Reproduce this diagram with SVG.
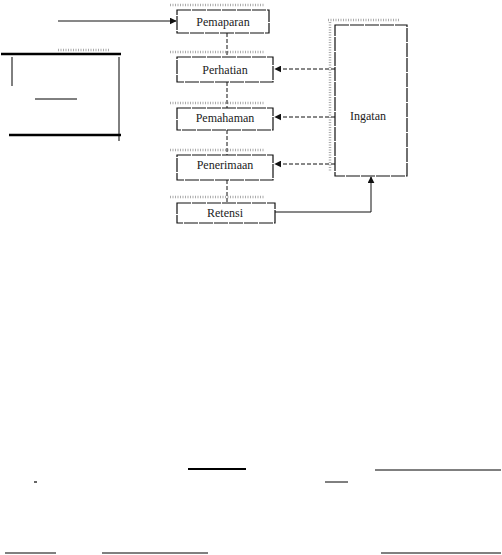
<svg xmlns="http://www.w3.org/2000/svg" width="502" height="555" viewBox="0 0 502 555">
<style>
.box{fill:#fff;stroke:#111;stroke-width:1.2;stroke-dasharray:14 1}
.lbl{font-family:"Liberation Serif",serif;font-size:12px;fill:#222;text-anchor:middle;dominant-baseline:central}
.sh{stroke:#aaa;stroke-width:2.5;stroke-dasharray:1 1.5;fill:none}
.dash{stroke:#111;stroke-width:1;stroke-dasharray:4 2;fill:none}
.solid{stroke:#111;stroke-width:1;fill:none}
.rule{stroke:#000;fill:none}
</style>
<defs>
<marker id="ah" viewBox="0 0 10 10" refX="9" refY="5" markerWidth="7" markerHeight="7" orient="auto-start-reverse">
<path d="M0,0 L10,5 L0,10 z" fill="#111"/>
</marker>
</defs>
<rect width="502" height="555" fill="#fff"/>
<g id="fragments">
<line class="rule" x1="1" y1="54" x2="121" y2="54" stroke-width="2.5"/>
<line class="rule" x1="12" y1="57" x2="12" y2="86" stroke-width="1"/>
<line class="rule" x1="119" y1="57" x2="119" y2="141" stroke-width="1"/>
<line class="rule" x1="35" y1="99" x2="77" y2="99" stroke-width="1"/>
<line class="rule" x1="9" y1="135" x2="121" y2="135" stroke-width="2.5"/>
<line class="sh" x1="58" y1="50" x2="110" y2="50" stroke-width="2"/>
<line class="rule" x1="188" y1="469" x2="246" y2="469" stroke-width="2"/>
<line class="rule" x1="34" y1="482" x2="37" y2="482" stroke-width="1.2"/>
<line class="rule" x1="325" y1="482" x2="348" y2="482" stroke-width="1"/>
<line class="rule" x1="375" y1="470" x2="501" y2="470" stroke-width="1"/>
<line class="rule" x1="5" y1="553" x2="56" y2="553" stroke-width="1"/>
<line class="rule" x1="102" y1="553" x2="208" y2="553" stroke-width="1"/>
<line class="rule" x1="381" y1="553" x2="501" y2="553" stroke-width="1"/>
</g>
<g id="shadows">
<line class="sh" x1="170" y1="5" x2="265" y2="5"/>
<line class="sh" x1="170" y1="52" x2="265" y2="52"/>
<line class="sh" x1="170" y1="103" x2="265" y2="103"/>
<line class="sh" x1="170" y1="150" x2="265" y2="150"/>
<line class="sh" x1="170" y1="197" x2="265" y2="197"/>
<line class="sh" x1="328" y1="20" x2="400" y2="20"/>
<line class="sh" x1="330" y1="22" x2="330" y2="172"/>
</g>
<g id="connectors">
<line class="solid" x1="58" y1="21" x2="176" y2="21" marker-end="url(#ah)"/>
<line class="dash" x1="227" y1="33" x2="227" y2="57"/>
<line class="dash" x1="227" y1="82" x2="227" y2="108"/>
<line class="dash" x1="227" y1="130" x2="227" y2="155"/>
<line class="dash" x1="227" y1="180" x2="227" y2="203"/>
<line class="dash" x1="335" y1="69" x2="275" y2="69" marker-end="url(#ah)"/>
<line class="dash" x1="335" y1="117" x2="275" y2="117" marker-end="url(#ah)"/>
<line class="dash" x1="335" y1="164" x2="275" y2="164" marker-end="url(#ah)"/>
<polyline class="solid" points="275,212 371,212 371,177" marker-end="url(#ah)"/>
</g>
<g id="pemaparan"><rect class="box" x="177" y="10" width="92" height="23"/><text class="lbl" x="223" y="21.5">Pemaparan</text></g>
<g id="perhatian"><rect class="box" x="177" y="57" width="96" height="25"/><text class="lbl" x="225" y="69.5">Perhatian</text></g>
<g id="pemahaman"><rect class="box" x="177" y="108" width="96" height="22"/><text class="lbl" x="225" y="118">Pemahaman</text></g>
<g id="penerimaan"><rect class="box" x="177" y="155" width="96" height="25"/><text class="lbl" x="225" y="165">Penerimaan</text></g>
<g id="retensi"><rect class="box" x="177" y="203" width="98" height="20"/><text class="lbl" x="225" y="213">Retensi</text></g>
<g id="ingatan"><rect class="box" x="335" y="25" width="72" height="151"/><text class="lbl" x="368" y="116">Ingatan</text></g>
</svg>
